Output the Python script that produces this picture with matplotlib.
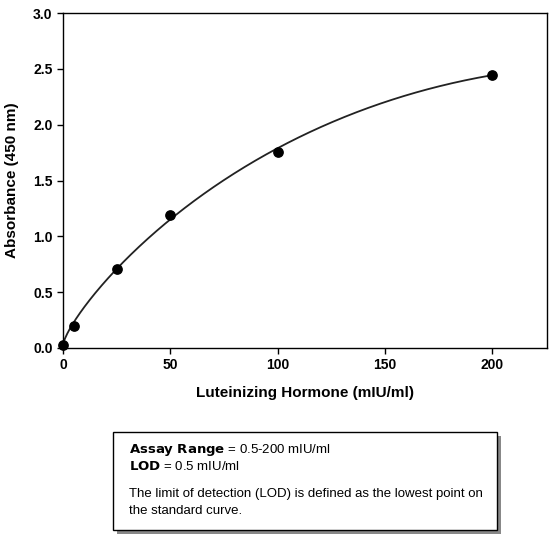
import numpy as np
import matplotlib
matplotlib.use("Agg")
import matplotlib.pyplot as plt
from matplotlib.patches import Rectangle

plt.rcParams['font.family'] = ['Liberation Sans', 'DejaVu Sans']

conc = [0, 5, 25, 50, 100, 200]
absorb = [0.03, 0.20, 0.71, 1.19, 1.76, 2.45]
xticks = [0, 50, 100, 150, 200]
yticks = [0.0, 0.5, 1.0, 1.5, 2.0, 2.5, 3.0]

fig = plt.figure(figsize=(5.55, 5.40), dpi=100)
ax = fig.add_axes([0.1135, 0.3556, 0.872, 0.620])

coef = np.polyfit(np.sqrt(conc), absorb, 3)
xs = np.linspace(0, 200, 400)
ax.plot(xs, np.polyval(coef, np.sqrt(xs)), color='#222222', lw=1.3, zorder=2)
ax.scatter(conc, absorb, s=45, color='black', zorder=3, clip_on=False)

ax.set_xlim(0, 225.6)
ax.set_ylim(0, 3.0)
ax.set_xticks(xticks)
ax.set_yticks(yticks)
ax.set_yticklabels([f"{v:.1f}" for v in yticks])
ax.tick_params(labelsize=10, direction='out', length=4, width=1)
for lab in ax.get_xticklabels() + ax.get_yticklabels():
    lab.set_fontweight('bold')
for s in ax.spines.values():
    s.set_linewidth(1)
ax.set_xlabel('Luteinizing Hormone (mIU/ml)', fontsize=11, fontweight='bold', labelpad=10)
ax.set_ylabel('Absorbance (450 nm)', fontsize=11, fontweight='bold', labelpad=10)

# info box with shadow
bx, by, bw, bh = 0.204, 0.0185, 0.692, 0.181
fig.patches.append(Rectangle((bx + 0.006, by - 0.007), bw, bh, transform=fig.transFigure,
                             facecolor='#888888', edgecolor='none', zorder=1))
fig.patches.append(Rectangle((bx, by), bw, bh, transform=fig.transFigure,
                             facecolor='white', edgecolor='black', lw=1, zorder=2))
tx = 0.232
fig.text(tx, 1 - 450/540, r'$\bf{Assay\ Range}$ = 0.5-200 mIU/ml', fontsize=9.5, va='center', zorder=3)
fig.text(tx, 1 - 466/540, r'$\bf{LOD}$ = 0.5 mIU/ml', fontsize=9.5, va='center', zorder=3)
fig.text(tx, 1 - 494/540, 'The limit of detection (LOD) is defined as the lowest point on', fontsize=9.5, va='center', zorder=3)
fig.text(tx, 1 - 511/540, 'the standard curve.', fontsize=9.5, va='center', zorder=3)

fig.savefig('out.png', dpi=100)
